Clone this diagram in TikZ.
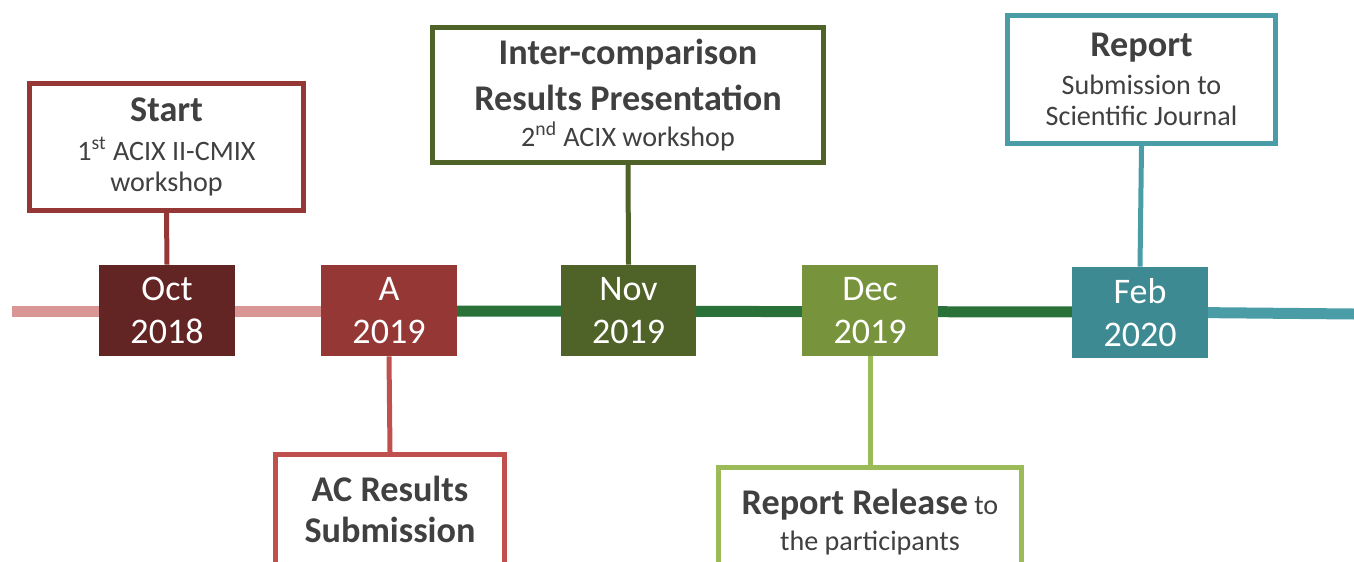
\documentclass[tikz,border=0pt]{standalone}
\usepackage{fontspec}
\setmainfont{Carlito}
\usetikzlibrary{positioning}

\definecolor{octfill}{RGB}{99,37,35}
\definecolor{afill}{RGB}{149,55,53}
\definecolor{novfill}{RGB}{79,98,40}
\definecolor{decfill}{RGB}{119,147,60}
\definecolor{febfill}{RGB}{61,138,146}
\definecolor{acline}{RGB}{192,80,77}
\definecolor{relline}{RGB}{155,187,89}
\definecolor{repline}{RGB}{74,157,167}
\definecolor{pinkline}{RGB}{217,150,148}
\definecolor{greenline}{RGB}{42,113,57}
\definecolor{txtgrey}{RGB}{64,64,64}

\newcommand{\cbig}{\fontsize{20.6}{25}\selectfont\bfseries}
\newcommand{\csmall}{\fontsize{16}{17.5}\selectfont}

\begin{document}
\begin{tikzpicture}[
    x=0.02cm, y=-0.02cm,
    datebox/.style={fill=#1, text=white, minimum width=2.72cm, minimum height=1.82cm, inner sep=0pt, align=center, font=\fontsize{20.5}{24.5}\selectfont},
    callout/.style={draw=#1, line width=0.1cm, fill=white, text=txtgrey, align=center, inner sep=0pt, font=\csmall},
    stem/.style={draw=#1, line width=0.1cm},
    track/.style={draw=#1, line width=0.22cm}
  ]
    \useasboundingbox (0,0) rectangle (1354,561);
    \clip (0,0) rectangle (1354,561);
    % timeline
    \coordinate (tlStart) at (12,311);
    \coordinate (tlA) at (389,311);
    \coordinate (tlFeb) at (1140,312);
    \coordinate (tlEnd) at (1354,314);
    \draw[track=pinkline] (tlStart) -- (tlA);
    \draw[track=greenline] (tlA) -- (tlFeb);
    \draw[track=repline] (tlFeb) -- (tlEnd);
    % dates
    \node[datebox=octfill] (oct) at (167,310.5) {Oct\\2018};
    \node[datebox=afill] (apr) at (389,310.5) {A\\2019};
    \node[datebox=novfill] (nov) at (628.5,310.5) {Nov\\2019};
    \node[datebox=decfill] (dec) at (870,310.5) {Dec\\2019};
    \node[datebox=febfill] (feb) at (1140,312.5) {Feb\\2020};
    % events
    \node[callout=afill, minimum width=5.48cm, minimum height=2.54cm] (start) at (166.5,147) {{\cbig Start}\\[5pt]1\textsuperscript{st} ACIX II-CMIX\\workshop};
    \node[callout=novfill, minimum width=7.82cm, minimum height=2.7cm] (inter) at (628,95) {{\cbig Inter-comparison}\\[7pt]{\cbig Results Presentation}\\[3pt]2\textsuperscript{nd} ACIX workshop};
    \node[callout=repline, minimum width=5.36cm, minimum height=2.56cm] (report) at (1141.5,79.5) {{\cbig Report}\\[4pt]Submission to\\Scientific Journal};
    \node[callout=acline, minimum width=4.58cm, minimum height=2.2cm] (acres) at (390,509.5) {{\cbig AC Results}\\[6pt]{\cbig Submission}};
    \node[callout=relline, minimum width=6.06cm, minimum height=2.2cm] (release) at (870,522.5) {{\cbig Report Release} to\\[3pt]the participants};
    % stems
    \draw[stem=afill] (start.south) -- (oct.north);
    \draw[stem=novfill] (inter.south) -- (nov.north);
    \draw[stem=repline] (report.south) -- (feb.north);
    \draw[stem=acline] (apr.south) -- (acres.north);
    \draw[stem=relline] (dec.south) -- (release.north);
\end{tikzpicture}
\end{document}
